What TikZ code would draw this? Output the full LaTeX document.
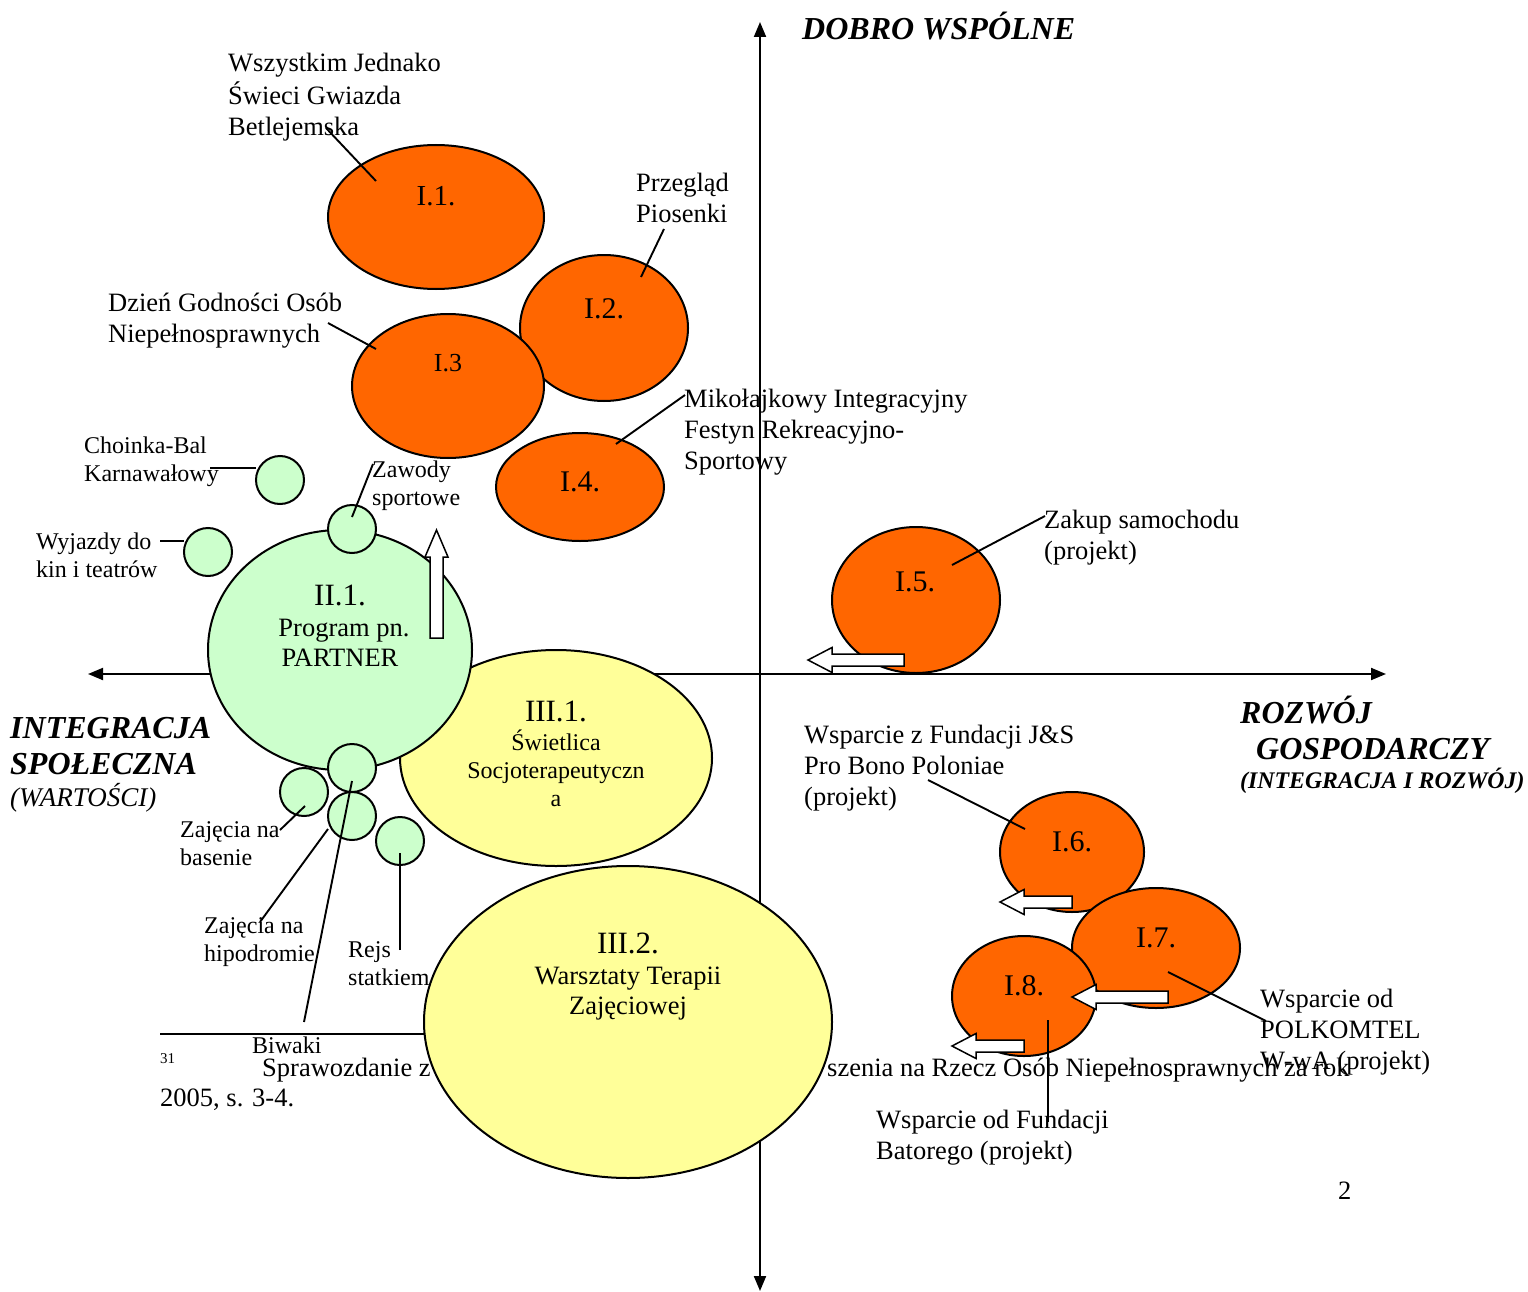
\documentclass[tikz,border=0pt]{standalone}
\usepackage{fontspec}
\setmainfont{Liberation Serif}
\usetikzlibrary{shapes.geometric,arrows.meta}
\definecolor{orgc}{HTML}{FF6600}
\definecolor{grnc}{HTML}{CCFFCC}
\definecolor{ylwc}{HTML}{FFFF99}
\newcommand\fA{\fontsize{26.5}{31}\selectfont}
\newcommand\fB{\fontsize{24}{28}\selectfont}
\newcommand\fBig{\fontsize{32}{36}\selectfont}
% left-pointing white block arrow: tail x, tip x, centre y
\newcommand\blkL[3]{%
  \filldraw[blk] (#1,#3-6) -- (#2+24,#3-6) -- (#2+24,#3-12.5) -- (#2,#3)
   -- (#2+24,#3+12.5) -- (#2+24,#3+6) -- (#1,#3+6) -- cycle;}
\begin{document}
\begin{tikzpicture}[x=1pt,y=-1pt,
  blk/.style={fill=white,draw=black,line width=1.5pt,line join=miter},
  orgell/.style={ellipse,draw=black,line width=2pt,fill=orgc,inner sep=0},
  ylwell/.style={ellipse,draw=black,line width=2pt,fill=ylwc,inner sep=0},
  grnell/.style={ellipse,draw=black,line width=2pt,fill=grnc,inner sep=0},
  smallc/.style={circle,draw=black,line width=2pt,fill=grnc,inner sep=0,minimum size=48pt},
  lblA/.style={inner sep=0,anchor=north west,align=left,font=\fA},
  lblB/.style={inner sep=0,anchor=north west,align=left,font=\fB},
  ctr/.style={inner sep=0,anchor=base},
  ldr/.style={line width=1.9pt},
  axis/.style={line width=2pt,{Triangle[length=15pt,width=12pt]}-{Triangle[length=15pt,width=12pt]}},
  ttl/.style={inner sep=0,anchor=base west,font=\fBig\bfseries\itshape}]
\useasboundingbox (0,0) rectangle (1528,1292);
\fill[white] (0,0) rectangle (1528,1292);

% axes
\coordinate (ytop) at (760,22);
\coordinate (ybot) at (760,1291);
\coordinate (xlft) at (88,674);
\coordinate (xrgt) at (1386,674);
\draw[axis] (ybot) -- (ytop);
\draw[axis] (xlft) -- (xrgt);

% axis titles
\node[inner sep=0,anchor=base west,font=\fontsize{32}{36}\selectfont\bfseries\itshape] (tdobro) at (802,40) {DOBRO WSPÓLNE};
\node[ttl] (tint1) at (10,738) {INTEGRACJA};
\node[ttl] (tint2) at (10,774) {SPOŁECZNA};
\node[inner sep=0,anchor=base west,font=\fontsize{27}{31}\selectfont\itshape] (twart) at (10,806) {(WARTOŚCI)};
\node[ttl] (trozw1) at (1240,723) {ROZWÓJ};
\node[ttl] (trozw2) at (1256,759) {GOSPODARCZY};
\node[inner sep=0,anchor=base west,font=\fontsize{23.8}{27}\selectfont\bfseries\itshape] (trozw3) at (1240,788) {(INTEGRACJA I ROZWÓJ)};

% footnote (behind III.2)
\coordinate (fnA) at (160,1034);
\coordinate (fnB) at (520,1034);
\draw[line width=1.8pt] (fnA) -- (fnB);
\node[inner sep=0,anchor=base west,font=\fontsize{15}{18}\selectfont] (fn31) at (160,1063) {31};
\node[inner sep=0,anchor=base west,font=\fA] (fnt1) at (262,1076) {Sprawozdanie z};
\node[inner sep=0,anchor=base west,font=\fA] (fnt2) at (827,1076) {szenia na Rzecz Osób Niepełnosprawnych za rok};
\node[inner sep=0,anchor=base west,font=\fA] (fnt3) at (160,1106) {2005, s. 3-4.};
\node[inner sep=0,anchor=base west,font=\fB] (biwaki) at (252,1053) {Biwaki};
\node[inner sep=0,anchor=base west,font=\fA] (pagenum) at (1338,1199) {2};

% orange ellipses, upper left
\node[orgell,minimum width=216pt,minimum height=144pt] (e11) at (436,217) {};
\node[orgell,minimum width=168pt,minimum height=146pt] (e12) at (604,328) {};
\node[orgell,minimum width=192pt,minimum height=144pt] (e13) at (448,386) {};
\node[orgell,minimum width=168pt,minimum height=108pt] (e14) at (580,487) {};
\node[ctr,font=\fontsize{29}{34}\selectfont] (t11) at (436,206) {I.1.};
\node[ctr,font=\fontsize{30}{34}\selectfont] (t12) at (604,318) {I.2.};
\node[ctr,font=\fontsize{26}{30}\selectfont] (t13) at (448,371) {I.3};
\node[ctr,font=\fontsize{30}{34}\selectfont] (t14) at (580,491) {I.4.};

% yellow ellipses
\node[ylwell,minimum width=312pt,minimum height=216pt] (e31) at (556,758) {};
\node[ylwell,minimum width=408pt,minimum height=312pt] (e32) at (628,1022) {};
\node[ctr,font=\fontsize{31}{34}\selectfont] (t31a) at (556,721) {III.1.};
\node[ctr,font=\fontsize{24}{28}\selectfont] (t31b) at (556,750) {Świetlica};
\node[ctr,font=\fontsize{24}{28}\selectfont] (t31c) at (556,778) {Socjoterapeutyczn};
\node[ctr,font=\fontsize{24}{28}\selectfont] (t31d) at (556,806) {a};
\node[ctr,font=\fontsize{31}{34}\selectfont] (t32a) at (628,953) {III.2.};
\node[ctr,font=\fA] (t32b) at (628,984) {Warsztaty Terapii};
\node[ctr,font=\fA] (t32c) at (628,1014) {Zajęciowej};

% green circle II.1
\node[grnell,minimum width=264pt,minimum height=240pt] (e21) at (340,650) {};
\node[ctr,font=\fontsize{31}{34}\selectfont] (t21a) at (340,605) {II.1.};
\node[ctr,font=\fA] (t21b) at (344,636) {Program pn.};
\node[ctr,font=\fA] (t21c) at (340,666) {PARTNER};

% small green circles
\node[smallc] (cchoin) at (280,480) {};
\node[smallc] (cwyj) at (208,552) {};
\node[smallc] (czaw) at (352,529) {};
\node[smallc] (cbiw) at (352,768) {};
\node[smallc] (cbas) at (304,792) {};
\node[smallc] (chip) at (352,816) {};
\node[smallc] (crejs) at (400,841) {};

% up arrow on II.1
\filldraw[blk] (430,638) -- (430,557) -- (425,557) -- (436.5,530) -- (448,557) -- (443,557) -- (443,638) -- cycle;

% right side ellipses
\node[orgell,minimum width=168pt,minimum height=146pt] (e15) at (916,600) {};
\node[ctr,font=\fontsize{30}{34}\selectfont] (t15) at (915,591) {I.5.};
\blkL{904}{808}{660}

\node[orgell,minimum width=144pt,minimum height=120pt] (e16) at (1072,852) {};
\node[ctr,font=\fontsize{30}{34}\selectfont] (t16) at (1072,851) {I.6.};
\blkL{1072}{1000}{902}
\node[orgell,minimum width=168pt,minimum height=120pt] (e17) at (1156,948) {};
\node[ctr,font=\fontsize{30}{34}\selectfont] (t17) at (1156,947) {I.7.};
\node[orgell,minimum width=144pt,minimum height=120pt] (e18) at (1024,996) {};
\node[ctr,font=\fontsize{30}{34}\selectfont] (t18) at (1024,995) {I.8.};
\blkL{1168}{1072}{997}
\blkL{1024}{952}{1046}

% labels
\node[lblA] (lwsz) at (228,50) {\strut Wszystkim Jednako\\Świeci Gwiazda\\Betlejemska};
\node[lblA] (lprz) at (636,170) {\strut Przegląd\\Piosenki};
\node[lblA] (ldzien) at (108,290) {\strut Dzień Godności Osób\\Niepełnosprawnych};
\node[lblA] (lmik) at (684,386) {\strut Mikołajkowy Integracyjny\\Festyn Rekreacyjno-\\Sportowy};
\node[lblB] (lchoin) at (84,434) {\strut Choinka-Bal\\Karnawałowy};
\node[lblB] (lzaw) at (372,458) {\strut Zawody\\sportowe};
\node[lblB] (lwyj) at (36,530) {\strut Wyjazdy do\\kin i teatrów};
\node[lblA] (lzakup) at (1044,507) {\strut Zakup samochodu\\(projekt)};
\node[lblA] (ljs) at (804,722) {\strut Wsparcie z Fundacji J\&S\\Pro Bono Poloniae\\(projekt)};
\node[lblB] (lbas) at (180,818) {\strut Zajęcia na\\basenie};
\node[lblB] (lhip) at (204,914) {\strut Zajęcia na\\hipodromie};
\node[lblB] (lrejs) at (348,938) {\strut Rejs\\statkiem};
\node[lblA] (lpolk) at (1260,986) {\strut Wsparcie od\\POLKOMTEL\\W-wA (projekt)};
\node[lblA] (lbat) at (876,1107) {\strut Wsparcie od Fundacji\\Batorego (projekt)};

% leader lines
\coordinate (a1) at (326,128);  \coordinate (b1) at (376,181);
\coordinate (a2) at (664,229);  \coordinate (b2) at (641,277);
\coordinate (a3) at (328,323);  \coordinate (b3) at (376,349);
\coordinate (a4) at (685,395);  \coordinate (b4) at (616,444);
\coordinate (a5) at (210,468);  \coordinate (b5) at (256,468);
\coordinate (a6) at (160,541);  \coordinate (b6) at (184,541);
\coordinate (a7) at (373,464);  \coordinate (b7) at (352,517);
\coordinate (a8) at (1045,516); \coordinate (b8) at (952,565);
\coordinate (a9) at (928,780);  \coordinate (b9) at (1025,829);
\coordinate (a10) at (280,830); \coordinate (b10) at (305,806);
\coordinate (a11) at (260,922); \coordinate (b11) at (328,829);
\coordinate (a12) at (304,1022);\coordinate (b12) at (352,781);
\coordinate (a13) at (400,950); \coordinate (b13) at (400,853);
\coordinate (a14) at (1266,1021);\coordinate (b14) at (1168,972);
\coordinate (a15) at (1048,1122);\coordinate (b15) at (1048,1020);
\foreach \i in {1,...,15} {\draw[ldr] (a\i) -- (b\i);}
\end{tikzpicture}
\end{document}
